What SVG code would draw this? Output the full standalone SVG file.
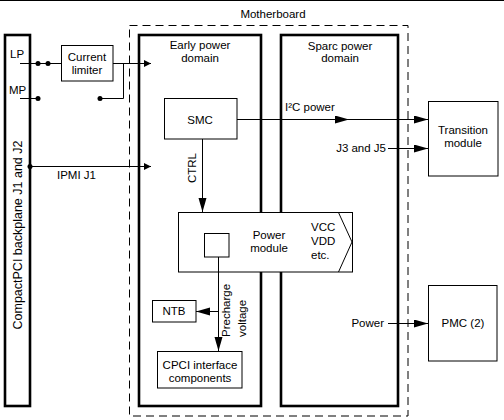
<svg xmlns="http://www.w3.org/2000/svg" width="504" height="420" viewBox="0 0 504 420">
<style>
text{font-family:"Liberation Sans",Arial,sans-serif;font-size:11.5px;fill:#000}
.m{text-anchor:middle}
.e{text-anchor:end}
.thin{fill:#fff;stroke:#000;stroke-width:1}
.thick{fill:none;stroke:#000;stroke-width:2.6}
.dash{fill:none;stroke:#000;stroke-width:1;stroke-dasharray:8 5}
.ln{fill:none;stroke:#000;stroke-width:1}
.big{marker-end:url(#ab)}
.sm{marker-end:url(#as)}
</style>
<defs>
<marker id="ab" markerUnits="userSpaceOnUse" markerWidth="15" markerHeight="9" refX="14" refY="4" orient="auto"><path d="M0,0 L14,4 L0,8 z" fill="#000"/></marker>
<marker id="as" markerUnits="userSpaceOnUse" markerWidth="8" markerHeight="8" refX="7" refY="3.5" orient="auto"><path d="M0,0 L7,3.5 L0,7 z" fill="#000"/></marker>
</defs>
<line x1="0" y1="0.5" x2="504" y2="0.5" stroke="#000" stroke-width="1"/>

<g id="motherboard">
<rect class="dash" x="129.5" y="25.5" width="278.5" height="390.5"/>
<text class="m" x="273" y="18">Motherboard</text>
</g>
<g id="backplane">
<rect class="thick" x="5" y="35" width="25" height="371"/>
<text class="m" font-size="12.5" style="font-size:12.5px" transform="translate(21.5,235) rotate(-90)">CompactPCI backplane J1 and J2</text>
<text x="10" y="58">LP</text>
<text x="9" y="94">MP</text>
</g>
<g id="early-domain">
<rect class="thick" x="139" y="35" width="122" height="371"/>
<text class="m" x="200" y="49">Early power</text>
<text class="m" x="200" y="62">domain</text>
</g>
<g id="sparc-domain">
<rect class="thick" x="281" y="35" width="117" height="371"/>
<text class="m" x="340" y="50">Sparc power</text>
<text class="m" x="340" y="62">domain</text>
</g>
<g id="current-limiter">
<rect class="thin" x="61.5" y="45.5" width="51.5" height="35.5"/>
<text class="m" x="87" y="61">Current</text>
<text class="m" x="87" y="74">limiter</text>
</g>
<g id="smc">
<rect class="thin" x="164.5" y="98.5" width="72.5" height="40.5"/>
<text class="m" x="200" y="124">SMC</text>
</g>
<g id="power-module">
<rect class="thin" x="178.5" y="212.5" width="174" height="59.5"/>
<polyline class="ln" points="338.5,212.5 352,242 338.5,272"/>
<rect class="thin" x="204.5" y="233.5" width="24.5" height="23.5"/>
<text class="m" x="269" y="239">Power</text>
<text class="m" x="269" y="252">module</text>
<text x="311" y="231">VCC</text>
<text x="311" y="245">VDD</text>
<text x="311" y="259">etc.</text>
</g>
<g id="ntb">
<rect class="thin" x="152.5" y="300.5" width="43.5" height="21.5"/>
<text class="m" x="174" y="315">NTB</text>
</g>
<g id="cpci">
<rect class="thin" x="157.5" y="351.5" width="84.5" height="36.5"/>
<text class="m" x="200" y="369">CPCI interface</text>
<text class="m" x="200" y="382">components</text>
</g>
<g id="transition-module">
<rect class="thin" x="428.5" y="101.5" width="69.5" height="74.5"/>
<text class="m" x="463" y="134">Transition</text>
<text class="m" x="463" y="147">module</text>
</g>
<g id="pmc">
<rect class="thin" x="428.5" y="285.5" width="68.5" height="75.5"/>
<text class="m" x="463" y="327">PMC (2)</text>
</g>

<g id="connectors">
<line class="ln" x1="20" y1="63.5" x2="61" y2="63.5"/>
<circle cx="38" cy="63.5" r="2.5"/>
<circle cx="48" cy="63.5" r="2.5"/>
<line class="ln sm" x1="113" y1="63.5" x2="151" y2="63.5"/>
<polyline class="ln" points="123.5,63.5 123.5,98.5 100,98.5"/>
<circle cx="100" cy="98.5" r="2.5"/>
<line class="ln" x1="20" y1="98.5" x2="38" y2="98.5"/>
<circle cx="38" cy="98.5" r="2.5"/>
<line class="ln sm" x1="30" y1="166.5" x2="151" y2="166.5"/>
<circle cx="30" cy="166.5" r="2.5"/>
<text x="57" y="179">IPMI J1</text>
<line class="ln big" x1="237" y1="119.5" x2="349" y2="119.5"/>
<line class="ln big" x1="349" y1="119.5" x2="428" y2="119.5"/>
<text x="285" y="111">I²C power</text>
<line class="ln big" x1="388" y1="148.5" x2="428" y2="148.5"/>
<text class="e" x="386" y="152">J3 and J5</text>
<line class="ln big" x1="202.5" y1="139" x2="202.5" y2="212"/>
<text class="m" transform="translate(196,168) rotate(-90)">CTRL</text>
<line class="ln big" x1="218.5" y1="257" x2="218.5" y2="351"/>
<line class="ln big" x1="218.5" y1="311.5" x2="196" y2="311.5"/>
<text transform="translate(229.5,337) rotate(-90)">Precharge</text>
<text transform="translate(245.5,337) rotate(-90)">voltage</text>
<line class="ln big" x1="388" y1="323.5" x2="428" y2="323.5"/>
<text class="e" x="384" y="327">Power</text>
</g>
</svg>
